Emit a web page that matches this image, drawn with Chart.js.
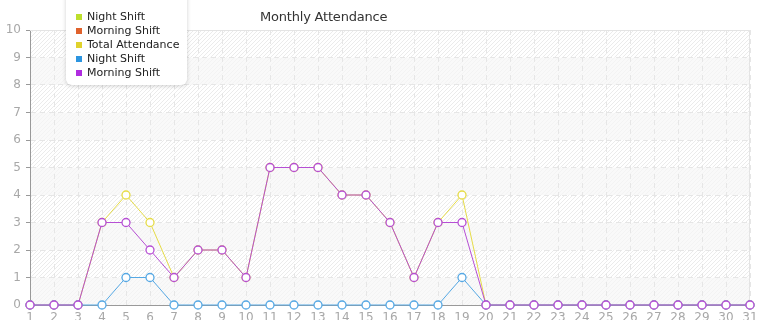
<!DOCTYPE html>
<html>
<head>
<meta charset="utf-8">
<title>Monthly Attendance</title>
<script src="https://cdn.jsdelivr.net/npm/chart.js@4.4.0/dist/chart.umd.min.js"></script>
<style>
  html, body { margin: 0; padding: 0; background: #fff; }
  #wrap { position: relative; width: 765px; height: 320px; overflow: hidden; font-family: "DejaVu Sans", sans-serif; }
  #chart { position: absolute; left: 0; top: 0; }
  #title { position: absolute; left: 260px; top: 9px; font-size: 13px; letter-spacing: -0.2px; color: #333; white-space: nowrap; }
  #legend { position: absolute; left: 66px; top: -8px; width: 121px; height: 93px; background: #fff;
            border-radius: 6px; box-shadow: 0 1px 4px rgba(0,0,0,0.18); }
  .item { position: absolute; left: 0; height: 14px; line-height: 14px; font-size: 11px; color: #222; white-space: nowrap; }
  .item i { position: absolute; left: 10px; top: 4px; width: 6px; height: 6px; }
  .item span { position: absolute; left: 21px; top: 0; }
</style>
</head>
<body>
<div id="wrap">
  <canvas id="chart" width="765" height="330"></canvas>
  <div id="title">Monthly Attendance</div>
  <div id="legend"></div>
</div>
<script>
// days of the month
const days = ['1','2','3','4','5','6','7','8','9','10','11','12','13','14','15','16',
              '17','18','19','20','21','22','23','24','25','26','27','28','29','30','31'];

const yTicks = [0, 10]; // min / max of the value axis

// series (first two are listed in the legend but carry no points)
const nightShiftBars = [];
const morningShiftBars = [];
const totalAttendance = [0,0,0,3,4,3,1,2,2,1,5,5,5,4,4,3,1,3,4,0,0,0,0,0,0,0,0,0,0,0,0];
const nightShift      = [0,0,0,0,1,1,0,0,0,0,0,0,0,0,0,0,0,0,1,0,0,0,0,0,0,0,0,0,0,0,0];
const morningShift    = [0,0,0,3,3,2,1,2,2,1,5,5,5,4,4,3,1,3,3,0,0,0,0,0,0,0,0,0,0,0,0];

const seriesNames = ['Night Shift', 'Morning Shift', 'Total Attendance', 'Night Shift', 'Morning Shift'];
const legendColors = ['#bddf2c', '#e0622c', '#e0d22c', '#2c95e0', '#b02ce0'];
const lineColors = ['#bddf2c', '#e0622c', '#e6dc48', '#55a8e4', '#b64fd4'];

// striped background: hatched and plain bands alternate
function makePattern(bg, stroke) {
  const c = document.createElement('canvas');
  c.width = 4; c.height = 4;
  const g = c.getContext('2d');
  g.fillStyle = bg;
  g.fillRect(0, 0, 4, 4);
  g.strokeStyle = stroke;
  g.lineWidth = 1;
  g.beginPath();
  g.moveTo(-1, 1); g.lineTo(1, -1);
  g.moveTo(0, 4); g.lineTo(4, 0);
  g.moveTo(3, 5); g.lineTo(5, 3);
  g.stroke();
  return g.createPattern(c, 'repeat');
}

const bandsPlugin = {
  id: 'bands',
  beforeDraw(chart) {
    const { ctx, chartArea: a, scales: { y } } = chart;
    const hatched = makePattern('#ffffff', '#ebebeb');
    const plain = makePattern('#f9f9f9', '#f3f3f3');
    ctx.save();
    for (let v = yTicks[0]; v < yTicks[1]; v++) {
      const top = y.getPixelForValue(v + 1);
      const bottom = y.getPixelForValue(v);
      ctx.fillStyle = v % 2 ? hatched : plain;
      ctx.fillRect(a.left, top, a.right - a.left, bottom - top);
    }
    ctx.restore();
  },
  beforeDatasetsDraw(chart) {
    const { ctx, chartArea: a } = chart;
    ctx.save();
    ctx.strokeStyle = '#e4e4e4';
    ctx.lineWidth = 1;
    ctx.beginPath();
    ctx.moveTo(a.left, a.top + 0.5);
    ctx.lineTo(a.right - 0.5, a.top + 0.5);
    ctx.lineTo(a.right - 0.5, a.bottom);
    ctx.stroke();
    ctx.restore();
  }
};

const seriesData = [nightShiftBars, morningShiftBars, totalAttendance, nightShift, morningShift];
const drawOrder = [4, 3, 2, 1, 0]; // later series sit on top

const datasets = seriesData.map((d, i) => ({
  label: seriesNames[i],
  data: d,
  order: drawOrder[i],
  borderColor: lineColors[i],
  backgroundColor: lineColors[i],
  borderWidth: 1,
  tension: 0,
  pointRadius: 4,
  pointHoverRadius: 4,
  pointBorderWidth: 1.3,
  pointBackgroundColor: '#fff',
  pointBorderColor: lineColors[i],
  clip: false
}));

new Chart(document.getElementById('chart'), {
  type: 'line',
  data: { labels: days, datasets: datasets },
  plugins: [bandsPlugin],
  options: {
    responsive: false,
    animation: false,
    layout: { padding: { top: 30, right: 15, left: 0, bottom: 0 } },
    plugins: {
      legend: { display: false },
      title: { display: false },
      tooltip: { enabled: false }
    },
    scales: {
      x: {
        offset: false,
        grid: { color: '#e6e6e6', drawTicks: false },
        border: { color: '#999', dash: [5, 4] },
        ticks: { color: '#a8a8a8', font: { family: 'DejaVu Sans', size: 12 }, padding: 6, maxRotation: 0, autoSkip: false },
        afterFit(s) { s.height = 25; }
      },
      y: {
        min: yTicks[0],
        max: yTicks[1],
        grid: { color: '#e6e6e6', tickLength: 4, tickColor: '#999' },
        border: { color: '#999', dash: [5, 4] },
        ticks: { stepSize: 1, color: '#a8a8a8', font: { family: 'DejaVu Sans', size: 12 }, padding: 5 },
        afterFit(s) { s.width = 30; }
      }
    }
  }
});

// legend box drawn from the same series names/colours
const legend = document.getElementById('legend');
seriesNames.forEach((name, i) => {
  const item = document.createElement('div');
  item.className = 'item';
  item.style.top = (18 + i * 14) + 'px';
  item.innerHTML = '<i style="background:' + legendColors[i] + '"></i><span></span>';
  item.querySelector('span').textContent = name;
  legend.appendChild(item);
});
</script>
</body>
</html>
